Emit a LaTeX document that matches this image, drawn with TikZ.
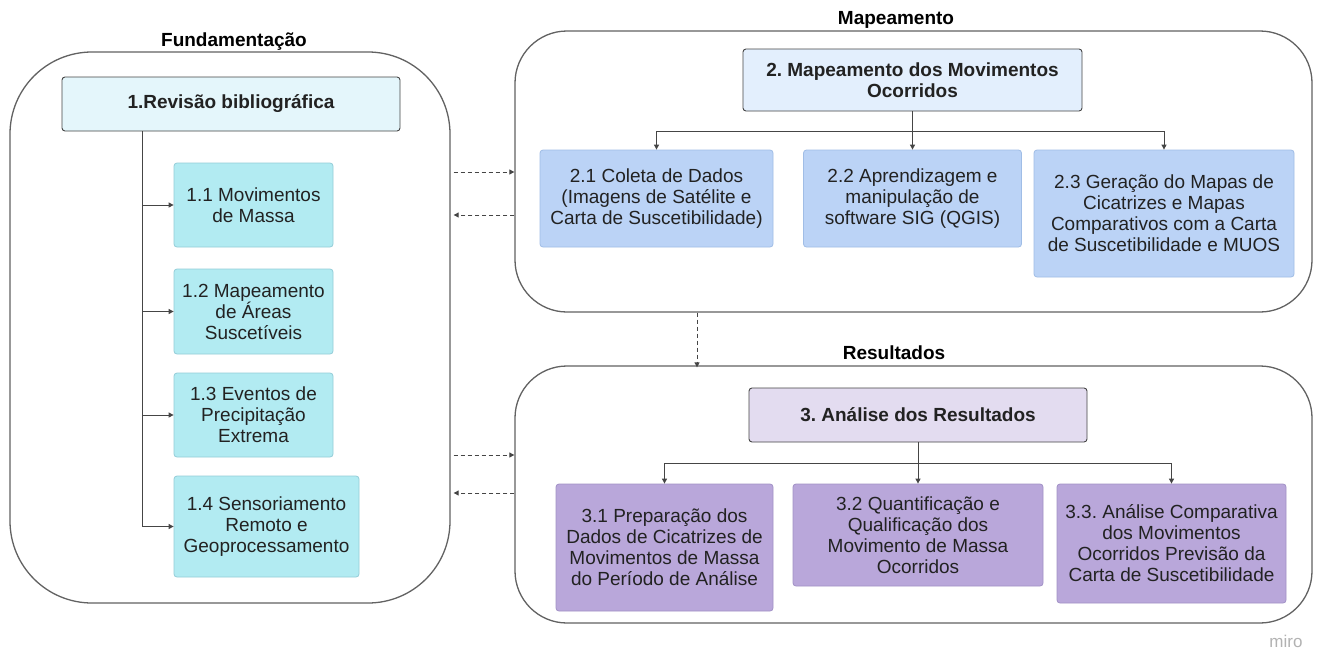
\documentclass[tikz,border=0pt]{standalone}
\usepackage{fontspec}
\setmainfont{Liberation Sans}
\usetikzlibrary{arrows.meta}
\frenchspacing
\definecolor{txt}{HTML}{222222}
\definecolor{contline}{HTML}{626262}
\definecolor{conn}{HTML}{454545}
\definecolor{fOne}{HTML}{E4F6FB}
\definecolor{fCyan}{HTML}{B2EBF2}
\definecolor{dCyan}{HTML}{93CDD8}
\definecolor{fTwo}{HTML}{E3EFFD}
\definecolor{fBlue}{HTML}{BBD3F6}
\definecolor{dBlue}{HTML}{A0BDE6}
\definecolor{fThree}{HTML}{E3DCF0}
\definecolor{fPurple}{HTML}{B9A7DA}
\definecolor{dPurple}{HTML}{A291C6}
\begin{document}
\begin{tikzpicture}[x=1pt,y=-1pt,
  every node/.style={inner sep=0pt, align=center, text=txt},
  cont/.style={draw=contline, line width=1.3pt, rectangle, fill=white},
  head/.style={draw=conn, line width=0.9pt, rounded corners=3pt, font=\bfseries\fontsize{19}{21}\selectfont},
  sub/.style={line width=0.8pt, rounded corners=3pt, font=\fontsize{19}{21}\selectfont},
  cyanbox/.style={sub, draw=dCyan, fill=fCyan},
  bluebox/.style={sub, draw=dBlue, fill=fBlue},
  purplebox/.style={sub, draw=dPurple, fill=fPurple},
  title/.style={font=\bfseries\fontsize{19}{21}\selectfont, text=black},
  tree/.style={draw=conn, line width=1pt, -{Triangle[length=5pt,width=5pt]}},
  dline/.style={draw=conn, line width=0.9pt, dash pattern=on 4pt off 3pt, -{Triangle[length=5pt,width=5pt]}}
]
\useasboundingbox[fill=white] (0,0) rectangle (1319,648);

% containers
\node[cont, rounded corners=82pt, minimum width=440pt, minimum height=551pt] (fund) at (230,327.5) {};
\node[cont, rounded corners=52pt, minimum width=797pt, minimum height=281pt] (map) at (913.5,171.5) {};
\node[cont, rounded corners=52pt, minimum width=797pt, minimum height=257pt] (res) at (913.5,494.5) {};

% titles
\node[title] (tfund) at (234,42) {Fundamentação};
\node[title] (tmap) at (896,20) {Mapeamento};
\node[title] (tres) at (894,353) {Resultados};

% section 1
\node[head, fill=fOne, minimum width=338pt, minimum height=54pt] (b1) at (231,104) {1.Revisão bibliográfica};
\node[cyanbox, minimum width=159pt, minimum height=84pt] (b11) at (253.5,205) {1.1 Movimentos\\de Massa};
\node[cyanbox, minimum width=159pt, minimum height=85pt] (b12) at (253.5,311.5) {1.2 Mapeamento\\de Áreas\\Suscetíveis};
\node[cyanbox, minimum width=159pt, minimum height=84pt] (b13) at (253.5,415) {1.3 Eventos de\\Precipitação\\Extrema};
\node[cyanbox, minimum width=185pt, minimum height=101pt] (b14) at (266.5,526.5) {1.4 Sensoriamento\\Remoto e\\Geoprocessamento};
\coordinate (trunk) at (142,0);
\foreach \c in {b11,b12,b13,b14}{
  \draw[tree] (b1.south -| trunk) |- (\c.west);
}

% section 2
\node[head, fill=fTwo, minimum width=339pt, minimum height=62pt] (b2) at (912.5,80) {2. Mapeamento dos Movimentos\\Ocorridos};
\node[bluebox, minimum width=233pt, minimum height=97pt] (b21) at (656.5,198.5) {2.1 Coleta de Dados\\(Imagens de Satélite e\\Carta de Suscetibilidade)};
\node[bluebox, minimum width=218pt, minimum height=97pt] (b22) at (912.5,198.5) {2.2 Aprendizagem e\\manipulação de\\software SIG (QGIS)};
\node[bluebox, minimum width=260pt, minimum height=127pt] (b23) at (1164,213.5) {2.3 Geração do Mapas de\\Cicatrizes e Mapas\\Comparativos com a Carta\\de Suscetibilidade e MUOS};
\draw[tree] (b2.south) -- (b22.north);
\draw[tree] (b2.south) -- ++(0,20) -| (b21.north);
\draw[tree] (b2.south) -- ++(0,20) -| (b23.north);

% section 3
\node[head, fill=fThree, minimum width=338pt, minimum height=54pt] (b3) at (918,415) {3. Análise dos Resultados};
\node[purplebox, minimum width=217pt, minimum height=127pt] (b31) at (664.5,547.5) {3.1 Preparação dos\\Dados de Cicatrizes de\\Movimentos de Massa\\do Período de Análise};
\node[purplebox, minimum width=250pt, minimum height=102pt] (b32) at (918,535) {3.2 Quantificação e\\Qualificação dos\\Movimento de Massa\\Ocorridos};
\node[purplebox, minimum width=229pt, minimum height=119pt] (b33) at (1171.5,543.5) {3.3. Análise Comparativa\\dos Movimentos\\Ocorridos Previsão da\\Carta de Suscetibilidade};
\draw[tree] (b3.south) -- (b32.north);
\draw[tree] (b3.south) -- ++(0,21) -| (b31.north);
\draw[tree] (b3.south) -- ++(0,21) -| (b33.north);

% dashed links
\coordinate (ya) at (0,172);
\coordinate (yb) at (0,215);
\coordinate (yc) at (0,455);
\coordinate (yd) at (0,493);
\coordinate (xm) at (697,0);
\draw[dline] ([xshift=3pt]fund.east |- ya) -- (map.west |- ya);
\draw[dline] (map.west |- yb) -- ([xshift=3pt]fund.east |- yb);
\draw[dline] ([xshift=3pt]fund.east |- yc) -- (res.west |- yc);
\draw[dline] (res.west |- yd) -- ([xshift=3pt]fund.east |- yd);
\draw[dline] (map.south -| xm) -- ([yshift=-2pt]res.north -| xm);

% watermark
\node[font=\fontsize{17}{20}\selectfont, text=black!30] (miro) at (1286,641) {miro};
\end{tikzpicture}
\end{document}
